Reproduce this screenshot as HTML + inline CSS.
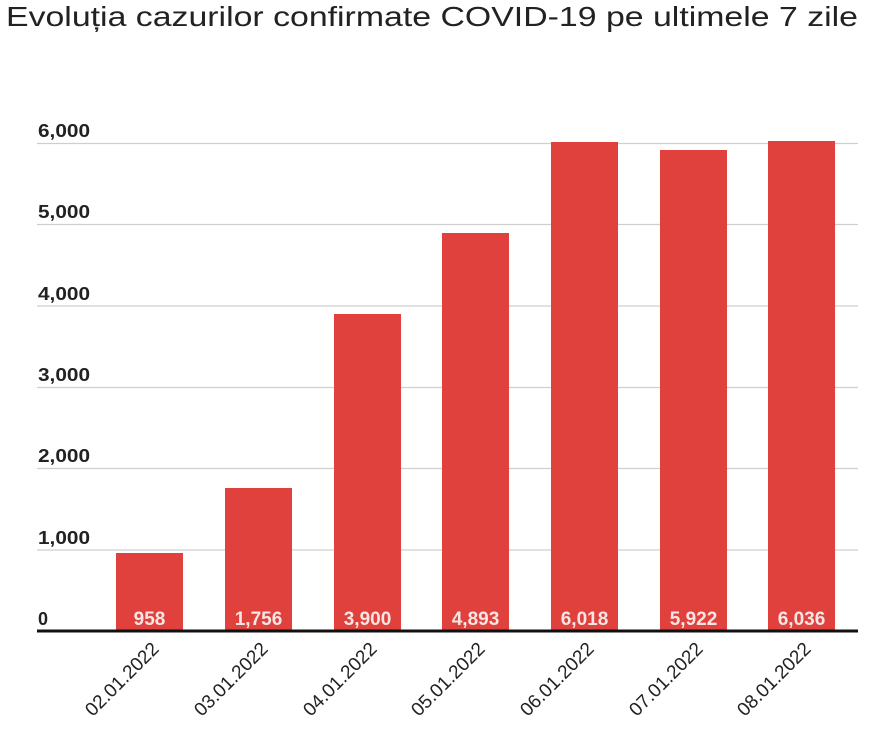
<!DOCTYPE html>
<html><head><meta charset="utf-8"><style>
html,body{margin:0;padding:0;background:#fff;width:870px;height:748px;overflow:hidden}
</style></head><body>
<svg width="870" height="748" xmlns="http://www.w3.org/2000/svg" font-family="Liberation Sans, sans-serif">
<text x="6" y="26" font-size="28" fill="#222" textLength="852" lengthAdjust="spacingAndGlyphs">Evoluția cazurilor confirmate COVID-19 pe ultimele 7 zile</text>
<g stroke="#cfcfcf" stroke-width="1.2">
<line x1="37" x2="858" y1="143.5" y2="143.5"/>
<line x1="37" x2="858" y1="224.5" y2="224.5"/>
<line x1="37" x2="858" y1="306" y2="306"/>
<line x1="37" x2="858" y1="387.5" y2="387.5"/>
<line x1="37" x2="858" y1="468.5" y2="468.5"/>
<line x1="37" x2="858" y1="550" y2="550"/>
</g>
<g font-size="18" fill="#222" font-weight="bold">
<text x="38" y="137" textLength="52" lengthAdjust="spacingAndGlyphs">6,000</text>
<text x="38" y="218" textLength="52" lengthAdjust="spacingAndGlyphs">5,000</text>
<text x="38" y="300" textLength="52" lengthAdjust="spacingAndGlyphs">4,000</text>
<text x="38" y="381" textLength="52" lengthAdjust="spacingAndGlyphs">3,000</text>
<text x="38" y="462" textLength="52" lengthAdjust="spacingAndGlyphs">2,000</text>
<text x="38" y="544" textLength="52" lengthAdjust="spacingAndGlyphs">1,000</text>
<text x="38" y="625">0</text>
</g>
<g fill="#e0413d">
<rect x="116" y="553" width="67" height="78"/>
<rect x="225" y="488" width="67" height="143"/>
<rect x="334" y="314" width="67" height="317"/>
<rect x="442" y="233" width="67" height="398"/>
<rect x="551" y="142" width="67" height="489"/>
<rect x="660" y="150" width="67" height="481"/>
<rect x="768" y="141" width="67" height="490"/>
</g>
<g font-size="19" fill="#f6e6e4" text-anchor="middle" font-weight="bold">
<text x="149.5" y="625">958</text>
<text x="258.5" y="625">1,756</text>
<text x="367.5" y="625">3,900</text>
<text x="475.5" y="625">4,893</text>
<text x="584.5" y="625">6,018</text>
<text x="693.5" y="625">5,922</text>
<text x="801.5" y="625">6,036</text>
</g>
<line x1="37" x2="858" y1="631" y2="631" stroke="#111" stroke-width="3"/>
<g font-size="19" fill="#222" text-anchor="end">
<text transform="translate(160,650) rotate(-45)">02.01.2022</text>
<text transform="translate(269,650) rotate(-45)">03.01.2022</text>
<text transform="translate(378,650) rotate(-45)">04.01.2022</text>
<text transform="translate(486,650) rotate(-45)">05.01.2022</text>
<text transform="translate(595,650) rotate(-45)">06.01.2022</text>
<text transform="translate(704,650) rotate(-45)">07.01.2022</text>
<text transform="translate(812,650) rotate(-45)">08.01.2022</text>
</g>
</svg>
</body></html>
